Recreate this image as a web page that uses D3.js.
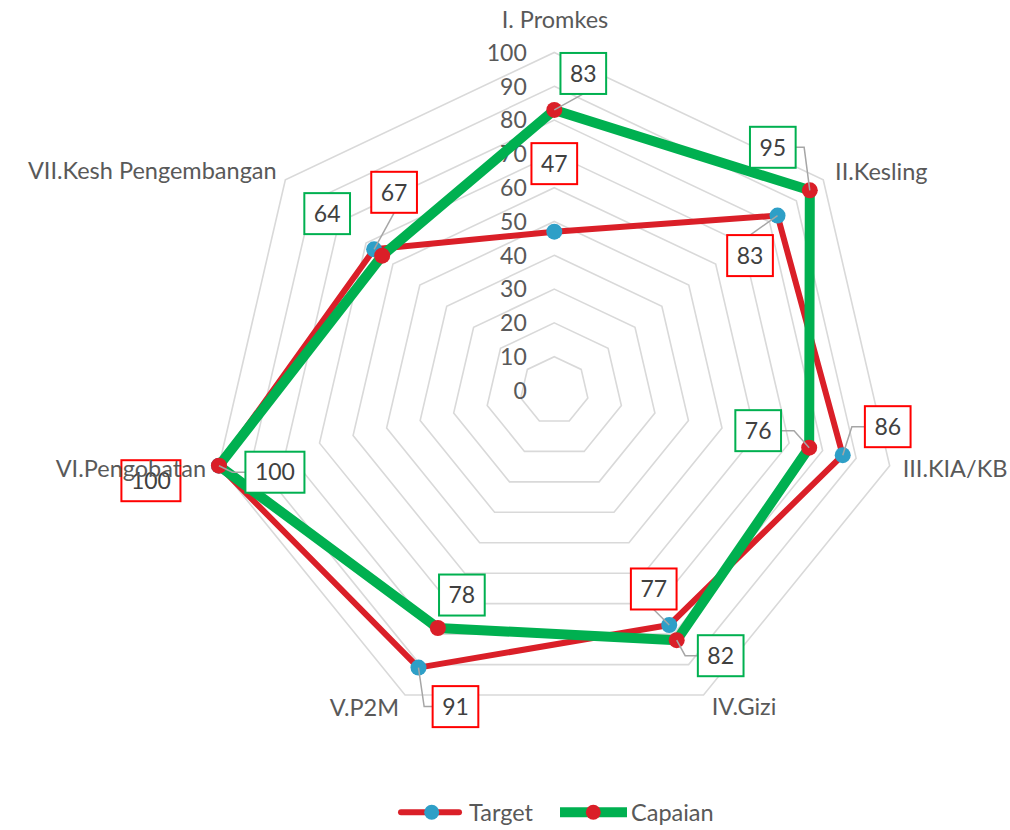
<!DOCTYPE html>
<html>
<head>
<meta charset="utf-8">
<script src="https://cdn.jsdelivr.net/npm/d3@7"></script>
<style>
  html, body { margin: 0; padding: 0; background: #fff; }
  svg { display: block; font-family: Lato, "Open Sans", sans-serif; }
</style>
</head>
<body>
<svg id="chart" width="1010" height="830"></svg>
<script>
// ---------- data ----------
const categories = ["I. Promkes", "II.Kesling", "III.KIA/KB", "IV.Gizi", "V.P2M", "VI.Pengobatan", "VII.Kesh Pengembangan"];
const targetValues = [47, 83, 86, 77, 91, 100, 67];
const capaianValues = [83, 95, 76, 82, 78, 100, 64];
const tickValues = [0, 10, 20, 30, 40, 50, 60, 70, 80, 90, 100];
const seriesNames = ["Target", "Capaian"];

// ---------- layout ----------
const W = 1010, H = 830;
const cx = 554.3, cy = 390.5;
const rX = d3.scaleLinear().domain([0, 100]).range([0, 344]);
const rY = d3.scaleLinear().domain([0, 100]).range([0, 338]);
const angle = d3.scaleLinear().domain([0, categories.length]).range([0, 2 * Math.PI]);

const textColor = "#595959";
const labelColor = "#404040";
const gridColor = "#D9D9D9";
const redLine = "#DA1F28";
const blueMarker = "#2E9FC7";
const greenLine = "#00B050";
const redBox = "#FF0000";
const textSize = 23.5;
const numSize = 23;

// label offsets (box center relative to point) and leader style
const targetLabelLayout = [
  {dx: 0, dy: -68, leader: "none"},
  {dx: -27.5, dy: 40, leader: "top"},
  {dx: 45, dy: -28.5, leader: "side"},
  {dx: -15.5, dy: -36, leader: "bottom"},
  {dx: 37, dy: 39, leader: "side"},
  {dx: -68, dy: 15, leader: "none"},
  {dx: 20, dy: -57, leader: "bottom"}
];
const capaianLabelLayout = [
  {dx: 29, dy: -36.5, leader: "bottom"},
  {dx: -37, dy: -43, leader: "side"},
  {dx: -51, dy: -17, leader: "side"},
  {dx: 44, dy: 15.5, leader: "side"},
  {dx: 24, dy: -33, leader: "none"},
  {dx: 56, dy: 6.5, leader: "side"},
  {dx: -55, dy: -42, leader: "none"}
];
// category label placement relative to outer vertex
const catLayout = [
  {dx: 0.7, dy: -24.4, anchor: "middle"},
  {dx: 11.8, dy: 0.2, anchor: "start"},
  {dx: 13, dy: 11.6, anchor: "start"},
  {dx: 8.1, dy: 20, anchor: "start"},
  {dx: -6, dy: 21, anchor: "end"},
  {dx: -12.9, dy: 11, anchor: "end"},
  {dx: -8.7, dy: -0.5, anchor: "end"}
];

function pt(i, v) {
  const a = angle(i);
  return [cx + rX(v) * Math.sin(a), cy - rY(v) * Math.cos(a)];
}

const svg = d3.select("#chart");

// ---------- grid ----------
const gridG = svg.append("g");
tickValues.filter(t => t > 0).forEach(t => {
  gridG.append("path")
    .attr("d", d3.line().curve(d3.curveLinearClosed)(categories.map((c, i) => pt(i, t))))
    .attr("fill", "none")
    .attr("stroke", gridColor)
    .attr("stroke-width", 1.6);
});

// ---------- tick labels ----------
svg.append("g").selectAll("text").data(tickValues).join("text")
  .attr("x", cx - 27.5)
  .attr("y", d => cy - rY(d))
  .attr("dy", "0.36em")
  .attr("text-anchor", "end")
  .attr("font-size", numSize)
  .attr("fill", textColor)
  .text(d => d);

// ---------- series ----------
const series = [
  {name: seriesNames[0], values: targetValues, line: redLine, width: 6, marker: blueMarker, box: redBox, layout: targetLabelLayout},
  {name: seriesNames[1], values: capaianValues, line: greenLine, width: 10, marker: redLine, box: greenLine, layout: capaianLabelLayout}
];

const lineGen = d3.line().curve(d3.curveLinearClosed);
series.forEach(s => {
  const pts = s.values.map((v, i) => pt(i, v));
  svg.append("path")
    .attr("d", lineGen(pts))
    .attr("fill", "none")
    .attr("stroke", s.line)
    .attr("stroke-width", s.width)
    .attr("stroke-linejoin", "round");
  svg.append("g").selectAll("circle").data(pts).join("circle")
    .attr("cx", d => d[0]).attr("cy", d => d[1])
    .attr("r", 8)
    .attr("fill", s.marker);
});

// ---------- data labels ----------
const labelG = svg.append("g");
const leaderG = labelG.append("g");
series.forEach(s => {
  s.values.forEach((v, i) => {
    const [px, py] = pt(i, v);
    const L = s.layout[i];
    const bx = px + L.dx, by = py + L.dy;
    const g = labelG.append("g");
    const t = g.append("text")
      .attr("x", bx).attr("y", by)
      .attr("dy", "0.36em")
      .attr("text-anchor", "middle")
      .attr("font-size", numSize)
      .attr("fill", labelColor)
      .text(v);
    const tw = t.node().getComputedTextLength();
    const bw = tw + 19, bh = 41;
    g.insert("rect", "text")
      .attr("x", bx - bw / 2).attr("y", by - bh / 2)
      .attr("width", bw).attr("height", bh)
      .attr("fill", "#fff")
      .attr("stroke", s.box)
      .attr("stroke-width", 2);
    // leader line
    let d = null;
    if (L.leader === "side") {
      const sx = px < bx ? bx - bw / 2 : bx + bw / 2;
      const dir = px < bx ? -1 : 1;
      const stub = Math.min(Math.abs(px - sx) * 0.6, 13);
      d = `M${sx},${by}L${sx + dir * stub},${by}L${px},${py}`;
    } else if (L.leader === "top") {
      d = `M${bx},${by - bh / 2}L${px},${py}`;
    } else if (L.leader === "bottom") {
      d = `M${bx},${by + bh / 2}L${px},${py}`;
    }
    if (d) {
      leaderG.append("path").attr("d", d)
        .attr("fill", "none")
        .attr("stroke", "#A6A6A6")
        .attr("stroke-width", 1.5);
    }
  });
});

// ---------- category labels ----------
svg.append("g").selectAll("text").data(categories).join("text")
  .attr("x", (d, i) => pt(i, 100)[0] + catLayout[i].dx)
  .attr("y", (d, i) => pt(i, 100)[1] + catLayout[i].dy)
  .attr("text-anchor", (d, i) => catLayout[i].anchor)
  .attr("font-size", textSize)
  .attr("fill", textColor)
  .text(d => d);

// ---------- legend ----------
const legend = svg.append("g");
const ly = 812.3;
// Target
legend.append("line")
  .attr("x1", 401).attr("x2", 459).attr("y1", ly).attr("y2", ly)
  .attr("stroke", redLine).attr("stroke-width", 6).attr("stroke-linecap", "round");
legend.append("circle").attr("cx", 431.7).attr("cy", ly).attr("r", 7.5).attr("fill", blueMarker);
legend.append("text").attr("x", 469).attr("y", ly).attr("dy", "0.36em")
  .attr("font-size", textSize).attr("fill", textColor).text(seriesNames[0]);
// Capaian
legend.append("line")
  .attr("x1", 560).attr("x2", 627).attr("y1", ly).attr("y2", ly)
  .attr("stroke", greenLine).attr("stroke-width", 10);
legend.append("circle").attr("cx", 593.3).attr("cy", ly).attr("r", 7.5).attr("fill", redLine);
legend.append("text").attr("x", 631).attr("y", ly).attr("dy", "0.36em")
  .attr("font-size", textSize).attr("fill", textColor).text(seriesNames[1]);
</script>
</body>
</html>
